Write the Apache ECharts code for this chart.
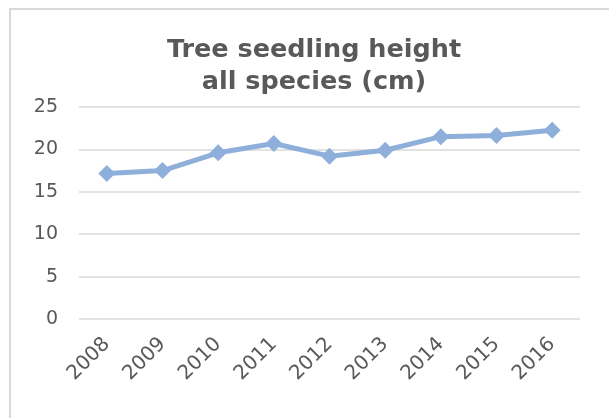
<!DOCTYPE html>
<html>
<head>
<meta charset="utf-8">
<script src="https://cdn.jsdelivr.net/npm/echarts@6/dist/echarts.min.js"></script>
<style>
  html, body { margin: 0; padding: 0; background: #fff; }
  #chart { width: 609px; height: 418px; }
</style>
</head>
<body>
<div id="chart"></div>
<script>
// ----- data -----
const years = ['2008', '2009', '2010', '2011', '2012', '2013', '2014', '2015', '2016']
const heights = [17.15, 17.5, 19.6, 20.7, 19.2, 19.9, 21.5, 21.65, 22.25]
const titleLines = ['Tree seedling height', 'all species (cm)']

const textColor = '#595959'
const gridColor = '#d9d9d9'
const lineColor = '#8fafdb'

const myChart = echarts.init(document.getElementById('chart'))

const option = {
  animation: false,
  title: {
    text: titleLines.join('\n'),
    left: 309,
    textAlign: 'center',
    top: 29,
    textStyle: {
      fontFamily: 'DejaVu Sans',
      fontWeight: 'bold',
      fontSize: 25.5,
      lineHeight: 32,
      color: textColor
    }
  },
  // outer chart border, only top and left edges fall inside the picture
  graphic: [
    {
      type: 'rect',
      shape: { x: 10, y: 9, width: 700, height: 500 },
      style: { fill: 'none', stroke: gridColor, lineWidth: 2 }
    }
  ],
  grid: {
    left: 79,
    right: 29,
    top: 107,
    bottom: 99
  },
  xAxis: {
    type: 'category',
    data: years,
    boundaryGap: true,
    axisLine: { show: false },
    axisTick: { show: false },
    axisLabel: {
      rotate: 45,
      margin: 22,
      fontFamily: 'DejaVu Sans',
      fontSize: 20,
      color: textColor
    }
  },
  yAxis: {
    type: 'value',
    min: 0,
    max: 25,
    interval: 5,
    axisLine: { show: false },
    axisTick: { show: false },
    axisLabel: {
      margin: 21,
      fontFamily: 'DejaVu Sans',
      fontSize: 19,
      color: textColor
    },
    splitLine: {
      lineStyle: { color: gridColor, width: 1.5 }
    }
  },
  series: [
    {
      name: 'Height',
      type: 'line',
      data: heights,
      symbol: 'diamond',
      symbolSize: 17,
      lineStyle: { color: lineColor, width: 5 },
      itemStyle: { color: lineColor }
    }
  ]
}

myChart.setOption(option)
</script>
</body>
</html>
